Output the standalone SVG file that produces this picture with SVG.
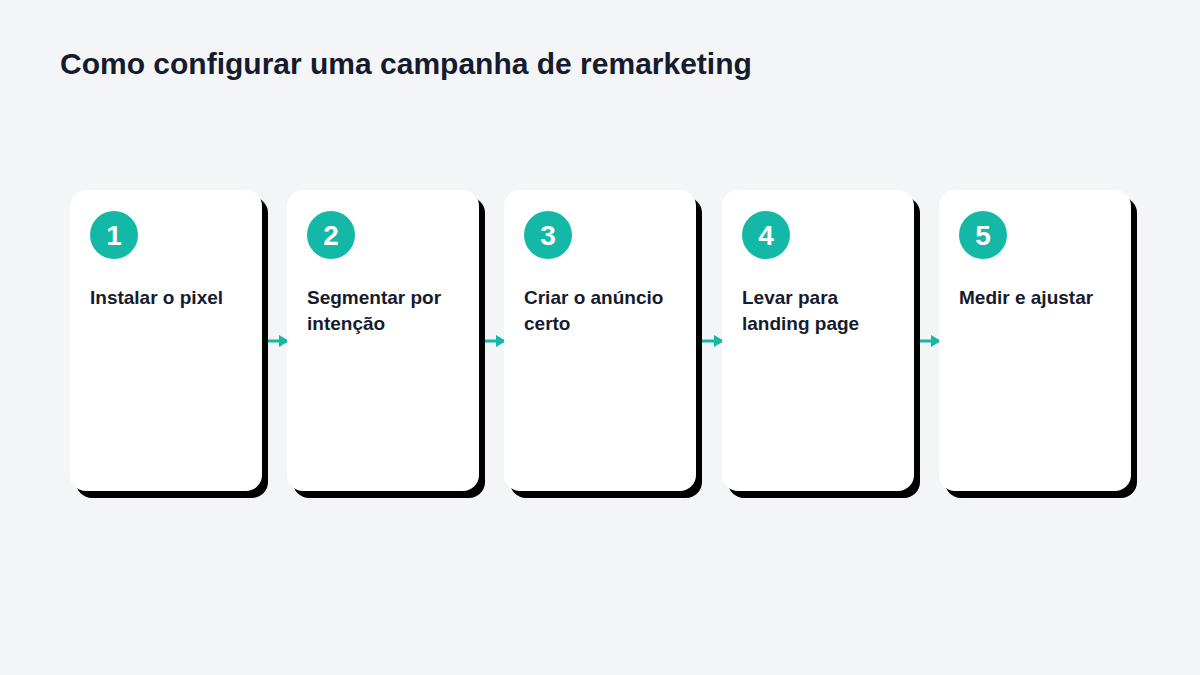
<svg xmlns="http://www.w3.org/2000/svg" width="1200" height="675" viewBox="0 0 1200 675">
<defs>
<style>
.t{font-family:"Liberation Sans",Arial,sans-serif;font-weight:bold;fill:#161b2e}
.lbl{font-size:19px}
.num{font-size:28px;fill:#fff;text-anchor:middle}
.card{fill:#fff}
.sh{fill:#000}
.c{fill:#14b8a6}
</style>
<marker id="ah" markerWidth="10" markerHeight="12" refX="9" refY="6" orient="auto" markerUnits="userSpaceOnUse"><path d="M0,0 L10,6 L0,12 Z" fill="#14b8a6"/></marker>
</defs>
<rect width="1200" height="675" fill="#f4f5f7"/>
<text class="t" x="60" y="74" font-size="30">Como configurar uma campanha de remarketing</text>
<g id="connectors" stroke="#14b8a6" stroke-width="3">
<line x1="265" y1="341" x2="288" y2="341" marker-end="url(#ah)"/>
<line x1="482" y1="341" x2="505" y2="341" marker-end="url(#ah)"/>
<line x1="699" y1="341" x2="723" y2="341" marker-end="url(#ah)"/>
<line x1="917" y1="341" x2="940" y2="341" marker-end="url(#ah)"/>
</g>
<g id="n1"><rect class="sh" x="76" y="197" width="192" height="301" rx="16"/><rect class="card" x="70" y="190" width="192" height="301" rx="16"/><circle class="c" cx="114" cy="235" r="24"/><text class="t num" x="114" y="245">1</text><text class="t lbl" x="90" y="304">Instalar o pixel</text></g>
<g id="n2"><rect class="sh" x="293" y="197" width="192" height="301" rx="16"/><rect class="card" x="287" y="190" width="192" height="301" rx="16"/><circle class="c" cx="331" cy="235" r="24"/><text class="t num" x="331" y="245">2</text><text class="t lbl" x="307" y="304">Segmentar por</text><text class="t lbl" x="307" y="330">intenção</text></g>
<g id="n3"><rect class="sh" x="510" y="197" width="192" height="301" rx="16"/><rect class="card" x="504" y="190" width="192" height="301" rx="16"/><circle class="c" cx="548" cy="235" r="24"/><text class="t num" x="548" y="245">3</text><text class="t lbl" x="524" y="304">Criar o anúncio</text><text class="t lbl" x="524" y="330">certo</text></g>
<g id="n4"><rect class="sh" x="728" y="197" width="192" height="301" rx="16"/><rect class="card" x="722" y="190" width="192" height="301" rx="16"/><circle class="c" cx="766" cy="235" r="24"/><text class="t num" x="766" y="245">4</text><text class="t lbl" x="742" y="304">Levar para</text><text class="t lbl" x="742" y="330">landing page</text></g>
<g id="n5"><rect class="sh" x="945" y="197" width="192" height="301" rx="16"/><rect class="card" x="939" y="190" width="192" height="301" rx="16"/><circle class="c" cx="983" cy="235" r="24"/><text class="t num" x="983" y="245">5</text><text class="t lbl" x="959" y="304">Medir e ajustar</text></g>
</svg>
